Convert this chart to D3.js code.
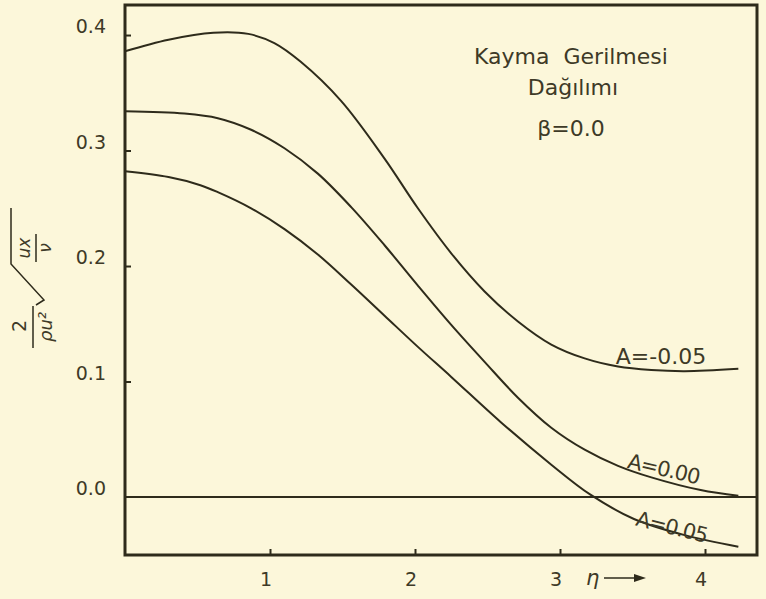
<!DOCTYPE html>
<html>
<head>
<meta charset="utf-8">
<script src="https://cdn.jsdelivr.net/npm/d3@7"></script>
<style>
  html, body { margin: 0; padding: 0; background: #fcf7da; }
  svg text { font-family: "DejaVu Sans", "Open Sans", sans-serif; fill: #3e3a27; }
</style>
</head>
<body>
<div id="chart"></div>
<script>
// values (eta, tau coefficient)
var etaM05 = [0, 0.30, 0.61, 0.85, 1.03, 1.21, 1.49, 1.79, 2.02, 2.25, 2.48, 2.71, 2.94, 3.17, 3.40, 3.63, 3.86, 4.23];
var tauM05 = [0.386, 0.396, 0.402, 0.401, 0.393, 0.377, 0.343, 0.293, 0.250, 0.211, 0.178, 0.152, 0.132, 0.120, 0.113, 0.110, 0.109, 0.111];

var etaA00 = [0, 0.41, 0.64, 0.87, 1.10, 1.33, 1.56, 1.79, 2.02, 2.25, 2.48, 2.71, 2.94, 3.17, 3.40, 3.63, 3.97, 4.23];
var tauA00 = [0.334, 0.332, 0.328, 0.318, 0.302, 0.280, 0.251, 0.218, 0.183, 0.149, 0.117, 0.086, 0.060, 0.041, 0.027, 0.017, 0.006, 0.001];

var etaA05 = [0, 0.30, 0.52, 0.64, 0.87, 1.10, 1.33, 1.56, 1.79, 2.02, 2.25, 2.59, 2.94, 3.21, 3.51, 3.86, 4.23];
var tauA05 = [0.282, 0.277, 0.270, 0.264, 0.250, 0.232, 0.210, 0.184, 0.157, 0.130, 0.104, 0.065, 0.028, 0.002, -0.019, -0.033, -0.043];

var xTicks = [1, 2, 3, 4];
var yTicks = [0.0, 0.1, 0.2, 0.3, 0.4];
var seriesLabels = ["A=-0.05", "A=0.00", "A=0.05"];
var titleLines = ["Kayma  Gerilmesi", "Dağılımı", "β=0.0"];

drawChart = function(){

    var width = 766, height = 599;
    var pLeft = 125, pRight = 757, pTop = 5, pBottom = 555;
    var ink = "#2e2b1b";

    var svg = d3.select("#chart").append("svg")
        .attr("width", width).attr("height", height);

    var x = d3.scaleLinear().domain([0, (pRight - pLeft) / 145]).range([pLeft, pRight]);
    var y = d3.scaleLinear().domain([-0.0502, 0.426]).range([pBottom, pTop]);

    // zero line
    svg.append("line")
        .attr("x1", pLeft).attr("x2", pRight)
        .attr("y1", y(0)).attr("y2", y(0))
        .attr("stroke", ink).attr("stroke-width", 2);

    // axes with inward ticks
    var xAxis = d3.axisTop(x).tickValues(xTicks).tickSize(6).tickFormat("");
    svg.append("g").attr("transform", "translate(0," + pBottom + ")").call(xAxis)
        .call(function(g){ g.select(".domain").remove(); g.selectAll("line").attr("stroke", ink).attr("stroke-width", 2); });

    var yAxis = d3.axisRight(y).tickValues(yTicks.slice(1)).tickSize(6).tickFormat("");
    svg.append("g").attr("transform", "translate(" + pLeft + ",0)").call(yAxis)
        .call(function(g){ g.select(".domain").remove(); g.selectAll("line").attr("stroke", ink).attr("stroke-width", 2); });

    // tick labels
    svg.selectAll(".ylab").data(yTicks).enter().append("text")
        .attr("class", "ylab")
        .attr("x", 106).attr("y", function(d){ return y(d) - 2; })
        .attr("text-anchor", "end")
        .style("font-size", "19px")
        .text(function(d){ return d.toFixed(1); });

    svg.selectAll(".xlab").data(xTicks).enter().append("text")
        .attr("class", "xlab")
        .attr("x", function(d){ return x(d) - 4; }).attr("y", 586)
        .attr("text-anchor", "middle")
        .style("font-size", "19px")
        .text(function(d){ return d; });

    // eta arrow
    svg.append("text").attr("x", 586).attr("y", 585).style("font-size", "21px").style("font-style", "italic").text("η");
    svg.append("line").attr("x1", 604).attr("x2", 636).attr("y1", 578).attr("y2", 578)
        .attr("stroke", ink).attr("stroke-width", 1.5);
    svg.append("path").attr("d", "M634,574 L646,578 L634,582 Z").attr("fill", ink);

    // frame
    svg.append("rect")
        .attr("x", pLeft).attr("y", pTop)
        .attr("width", pRight - pLeft).attr("height", pBottom - pTop)
        .attr("fill", "none").attr("stroke", ink).attr("stroke-width", 3);

    // curves
    var line = d3.line()
        .x(function(d){ return x(d[0]); })
        .y(function(d){ return y(d[1]); })
        .curve(d3.curveCatmullRom.alpha(0.5));

    var series = [d3.zip(etaM05, tauM05), d3.zip(etaA00, tauA00), d3.zip(etaA05, tauA05)];
    svg.selectAll(".curve").data(series).enter().append("path")
        .attr("class", "curve")
        .attr("d", line)
        .attr("fill", "none")
        .attr("stroke", ink)
        .attr("stroke-width", 2);

    // curve labels
    svg.append("text").attr("x", 661).attr("y", 364).attr("text-anchor", "middle")
        .style("font-size", "22px").text(seriesLabels[0]);
    svg.append("text").attr("transform", "translate(662,476) rotate(13)").attr("text-anchor", "middle")
        .style("font-size", "21px").style("letter-spacing", "-1px").text(seriesLabels[1]);
    svg.append("text").attr("transform", "translate(670,534) rotate(14)").attr("text-anchor", "middle")
        .style("font-size", "21px").style("letter-spacing", "-1px").text(seriesLabels[2]);

    // title block
    svg.append("text").attr("x", 571).attr("y", 64).attr("text-anchor", "middle")
        .attr("xml:space", "preserve")
        .style("font-size", "22px").style("white-space", "pre").text(titleLines[0]);
    svg.append("text").attr("x", 573).attr("y", 95).attr("text-anchor", "middle")
        .style("font-size", "22px").text(titleLines[1]);
    svg.append("text").attr("x", 571).attr("y", 136).attr("text-anchor", "middle")
        .style("font-size", "22px").text(titleLines[2]);

    // y axis label, rotated formula
    var yl = svg.append("g").attr("transform", "translate(33,326) rotate(-90)");
    yl.append("text").attr("x", 0).attr("y", -7).attr("text-anchor", "middle").style("font-size", "19px").text("2");
    yl.append("line").attr("x1", -22).attr("x2", 20).attr("y1", 0).attr("y2", 0).attr("stroke", ink).attr("stroke-width", 1.5);
    yl.append("text").attr("x", -1).attr("y", 19).attr("text-anchor", "middle").style("font-size", "18px").style("font-style", "italic").text("ρu²");
    yl.append("path").attr("d", "M21,3 L26,11 L62,-22 L118,-22")
        .attr("fill", "none").attr("stroke", ink).attr("stroke-width", 1.5);
    yl.append("text").attr("x", 78).attr("y", -3).attr("text-anchor", "middle").style("font-size", "17px").style("font-style", "italic").text("ux");
    yl.append("line").attr("x1", 64).attr("x2", 92).attr("y1", 3).attr("y2", 3).attr("stroke", ink).attr("stroke-width", 1.5);
    yl.append("text").attr("x", 78).attr("y", 18).attr("text-anchor", "middle").style("font-size", "17px").style("font-style", "italic").text("ν");
};

drawChart();
</script>
</body>
</html>
